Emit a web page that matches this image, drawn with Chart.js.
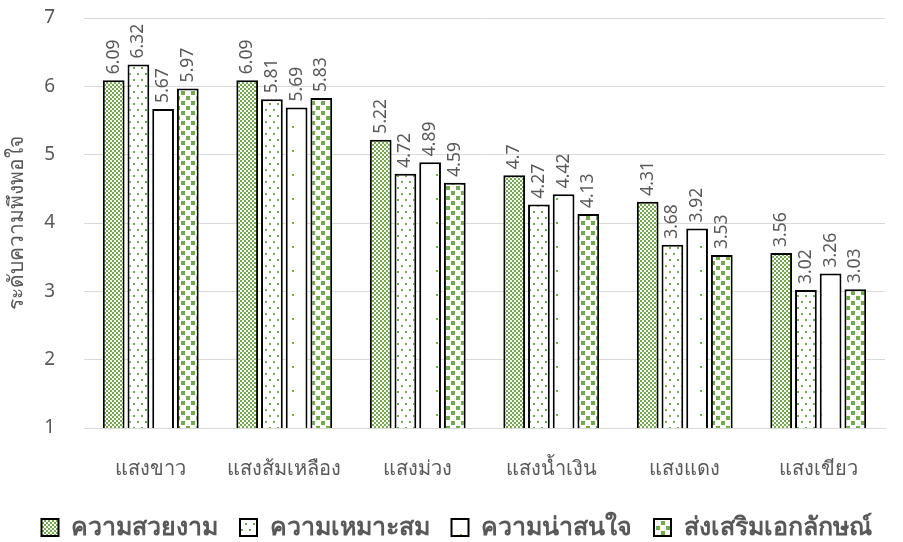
<!DOCTYPE html>
<html>
<head>
<meta charset="utf-8">
<script src="https://cdn.jsdelivr.net/npm/chart.js@4.4.1/dist/chart.umd.min.js"></script>
<style>
  html, body { margin: 0; padding: 0; background: #fff; }
  #wrap { width: 903px; height: 542px; position: relative; }
</style>
</head>
<body>
<div id="wrap"><canvas id="myChart"></canvas></div>
<script>
//========================= Data ==================================//
const categories = ['แสงขาว', 'แสงส้มเหลือง', 'แสงม่วง', 'แสงน้ำเงิน', 'แสงแดง', 'แสงเขียว'];
const seriesNames = ['ความสวยงาม', 'ความเหมาะสม', 'ความน่าสนใจ', 'ส่งเสริมเอกลักษณ์'];
const beauty = [6.09, 6.09, 5.22, 4.7, 4.31, 3.56];
const suitability = [6.32, 5.81, 4.72, 4.27, 3.68, 3.02];
const interest = [5.67, 5.69, 4.89, 4.42, 3.92, 3.26];
const identity = [5.97, 5.83, 4.59, 4.13, 3.53, 3.03];
const yTicks = [1, 2, 3, 4, 5, 6, 7];

const GREEN = '#70ad47';
const FONT = "'Noto Sans', 'DejaVu Sans', sans-serif";

/***************************************************************
* Fill patterns
****************************************************************/
function makePattern(w, h, draw) {
  const c = document.createElement('canvas');
  c.width = w; c.height = h;
  const g = c.getContext('2d');
  g.fillStyle = '#fff';
  g.fillRect(0, 0, w, h);
  g.fillStyle = GREEN;
  draw(g);
  return document.createElement('canvas').getContext('2d').createPattern(c, 'repeat');
}

// small checkerboard
const checker = makePattern(4, 4, g => {
  g.fillRect(0, 0, 2, 2);
  g.fillRect(2, 2, 2, 2);
});
// scattered dots
const dots = makePattern(8, 12, g => {
  g.fillRect(1, 1, 2, 2);
  g.fillRect(5, 7, 2, 2);
});
// sparse dots
const sparse = makePattern(24, 24, g => {
  g.fillRect(4, 6, 2, 2);
});
// large squares
const squares = makePattern(10, 10, g => {
  g.fillRect(1, 1, 4, 4);
  g.fillRect(6, 6, 4, 4);
});

/***************************************************************
* Value labels drawn above bars
****************************************************************/
const valueLabels = {
  id: 'valueLabels',
  afterLayout(chart) {
    // nudge the legend row a little to the right
    chart.legend.left += 12;
    chart.legend.right += 12;
  },
  afterDatasetsDraw(chart) {
    const ctx = chart.ctx;
    ctx.save();
    ctx.fillStyle = '#595959';
    ctx.font = '17.5px ' + FONT;
    ctx.textAlign = 'left';
    ctx.textBaseline = 'middle';
    chart.data.datasets.forEach((ds, i) => {
      chart.getDatasetMeta(i).data.forEach((bar, j) => {
        ctx.save();
        ctx.translate(bar.x, bar.y - 6);
        ctx.rotate(-Math.PI / 2);
        ctx.fillText(String(ds.data[j]), 0, 0);
        ctx.restore();
      });
    });
    ctx.restore();
  }
};

/***************************************************************
* Bar Chart
****************************************************************/
const fills = [checker, dots, sparse, squares];
const values = [beauty, suitability, interest, identity];

const ctx = document.getElementById('myChart').getContext('2d');

const myChart = new Chart(ctx, {
  type: 'bar',
  data: {
    labels: categories,
    datasets: seriesNames.map((name, i) => ({
      label: name,
      data: values[i],
      backgroundColor: fills[i],
      borderColor: '#000',
      borderWidth: 2,
      borderSkipped: false,
      categoryPercentage: 0.74,
      barPercentage: 0.88
    }))
  },
  options: {
    responsive: true,
    maintainAspectRatio: false,
    animation: false,
    layout: { padding: { top: 18, right: 18, left: 4, bottom: -8 } },
    plugins: {
      legend: {
        position: 'bottom',
        labels: {
          boxWidth: 17,
          boxHeight: 17,
          padding: 22,
          color: '#595959',
          font: { family: FONT, size: 25, weight: 'bold' }
        }
      },
      tooltip: { enabled: false }
    },
    scales: {
      x: {
        grid: { display: false },
        border: { color: '#d9d9d9' },
        ticks: { color: '#595959', font: { family: FONT, size: 20 }, padding: 21 },
        afterFit: axis => { axis.height = 65; }
      },
      y: {
        min: 1,
        max: 7,
        afterBuildTicks: axis => { axis.ticks = yTicks.map(v => ({ value: v })); },
        afterFit: axis => { axis.width = 80; },
        grid: { color: '#d9d9d9', drawTicks: true, tickLength: 26, tickColor: 'rgba(0,0,0,0)' },
        border: { display: false },
        ticks: { color: '#595959', font: { family: FONT, size: 19 }, padding: 3 },
        title: {
          display: true,
          text: 'ระดับความพึงพอใจ',
          color: '#595959',
          font: { family: FONT, size: 21 },
          padding: 0
        }
      }
    }
  },
  plugins: [valueLabels]
});
</script>
</body>
</html>
